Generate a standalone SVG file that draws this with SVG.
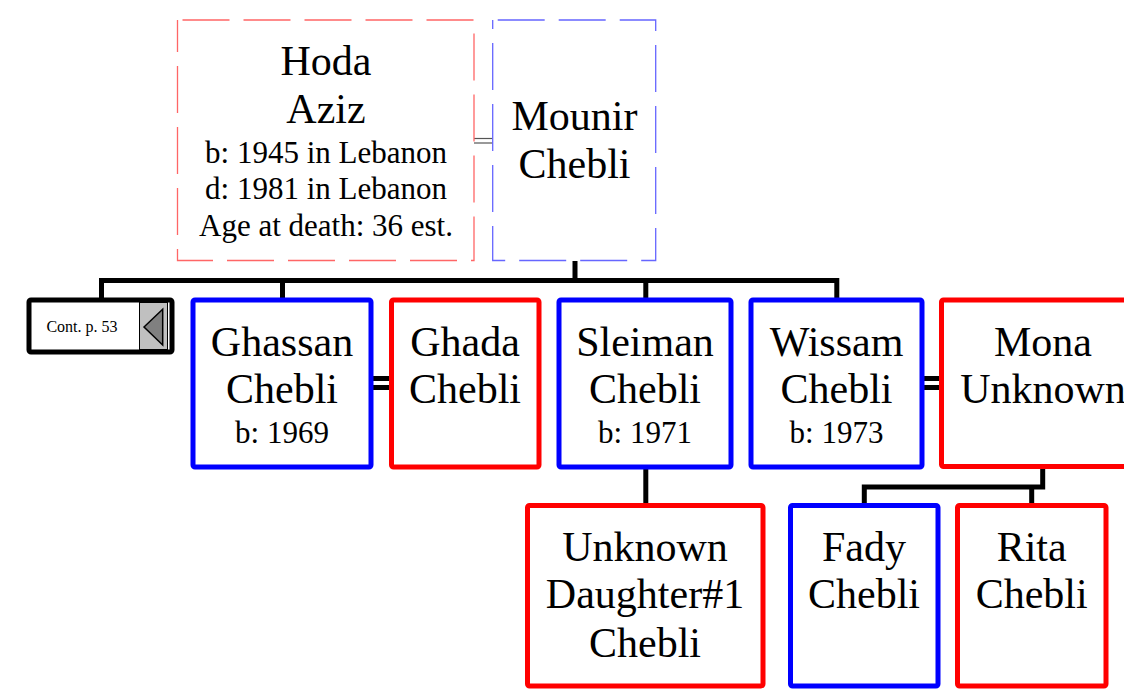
<svg xmlns="http://www.w3.org/2000/svg" width="1124" height="690" viewBox="0 0 1124 690">
<style>
.bg{fill:#ffffff}
.t{font-family:"Liberation Serif","Times New Roman",serif;fill:#000;text-anchor:middle}
.big{font-size:42px}
.sm{font-size:31px}
.m{fill:#fff;stroke:#0000ff;stroke-width:5}
.f{fill:#fff;stroke:#ff0000;stroke-width:5}
.dm{fill:#fff;stroke:#6666ff;stroke-width:1.3;stroke-dasharray:47 14;stroke-dashoffset:56}
.df{fill:#fff;stroke:#ff6666;stroke-width:1.3;stroke-dasharray:47 14;stroke-dashoffset:56}
.c{fill:none;stroke:#000;stroke-width:5}
.cthin{fill:none;stroke:#555;stroke-width:1.2}
</style>
<rect class="bg" x="0" y="0" width="1124" height="690"/>
<g id="connectors">
<line class="cthin" x1="474" y1="138.5" x2="493" y2="138.5"/>
<line class="cthin" x1="474" y1="143" x2="493" y2="143"/>
<path class="c" d="M575 261 V280.5 M101.5 300 V280.5 H836.8 V300 M282.5 280.5 V300 M645.8 280.5 V300"/>
<line class="c" x1="371" y1="378.5" x2="392" y2="378.5"/>
<line class="c" x1="371" y1="387.5" x2="392" y2="387.5"/>
<line class="c" x1="922" y1="378.5" x2="942" y2="378.5"/>
<line class="c" x1="922" y1="387.5" x2="942" y2="387.5"/>
<path class="c" d="M645.8 467 V505.5"/>
<path class="c" d="M1042.7 466.5 V487 H864.3 V505.5 M1031.7 487 V505.5"/>
</g>
<g id="hoda">
<rect class="df" x="177.5" y="20" width="296.5" height="240.5"/>
<text class="t big" x="326" y="75">Hoda</text>
<text class="t big" x="326" y="123.3">Aziz</text>
<text class="t sm" x="326" y="163.3">b: 1945 in Lebanon</text>
<text class="t sm" x="326" y="199.3">d: 1981 in Lebanon</text>
<text class="t sm" x="326" y="235.7">Age at death: 36 est.</text>
</g>
<g id="mounir">
<rect class="dm" x="492.7" y="20" width="163" height="240.5"/>
<text class="t big" x="574.5" y="130">Mounir</text>
<text class="t big" x="574.5" y="178.3">Chebli</text>
</g>
<g id="cont">
<rect x="29" y="300" width="143" height="52" rx="2" fill="#fff" stroke="#000" stroke-width="5"/>
<rect x="139.5" y="302.5" width="28" height="47" fill="#c0c0c0" stroke="#000" stroke-width="1"/>
<polygon points="144,327 162.7,309.3 162.7,345" fill="#808080" stroke="#000" stroke-width="1.5"/>
<text class="t" x="82" y="331.7" font-size="16">Cont. p. 53</text>
</g>
<g id="ghassan">
<rect class="m" x="193" y="300" width="178" height="167" rx="2"/>
<text class="t big" x="282" y="356">Ghassan</text>
<text class="t big" x="282" y="402.7">Chebli</text>
<text class="t sm" x="282" y="442.7">b: 1969</text>
</g>
<g id="ghada">
<rect class="f" x="391.5" y="300" width="147.5" height="167" rx="2"/>
<text class="t big" x="465" y="356">Ghada</text>
<text class="t big" x="465" y="402.7">Chebli</text>
</g>
<g id="sleiman">
<rect class="m" x="559" y="300" width="172" height="167" rx="2"/>
<text class="t big" x="645" y="356">Sleiman</text>
<text class="t big" x="645" y="402.7">Chebli</text>
<text class="t sm" x="645" y="442.7">b: 1971</text>
</g>
<g id="wissam">
<rect class="m" x="751" y="300" width="171" height="167" rx="2"/>
<text class="t big" x="836.5" y="356">Wissam</text>
<text class="t big" x="836.5" y="402.7">Chebli</text>
<text class="t sm" x="836.5" y="442.7">b: 1973</text>
</g>
<g id="mona">
<rect class="f" x="941.5" y="300" width="203" height="166.5" rx="2"/>
<text class="t big" x="1043" y="356">Mona</text>
<text class="t big" x="1043" y="402.7">Unknown</text>
</g>
<g id="unknown-daughter">
<rect class="f" x="527.5" y="505.5" width="235.5" height="180.5" rx="2"/>
<text class="t big" x="645" y="561">Unknown</text>
<text class="t big" x="645" y="608.3">Daughter#1</text>
<text class="t big" x="645" y="656.7">Chebli</text>
</g>
<g id="fady">
<rect class="m" x="790.5" y="505.5" width="147.5" height="180.5" rx="2"/>
<text class="t big" x="864" y="561">Fady</text>
<text class="t big" x="864" y="608.3">Chebli</text>
</g>
<g id="rita">
<rect class="f" x="957.5" y="505.5" width="148.5" height="180.5" rx="2"/>
<text class="t big" x="1031.7" y="561">Rita</text>
<text class="t big" x="1031.7" y="608.3">Chebli</text>
</g>
</svg>
